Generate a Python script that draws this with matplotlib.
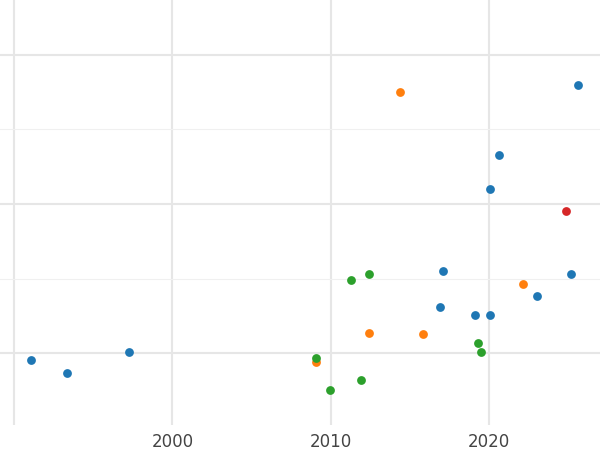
import matplotlib
matplotlib.use("Agg")
import matplotlib.pyplot as plt

blue_x = [1991.07, 1993.34, 1997.26, 2025.58, 2020.6, 2020.03, 2017.07, 2016.88, 2019.08, 2020.03, 2023.0, 2025.14]
blue_y = [-0.047, -0.134, 0.007, 1.799, 1.329, 1.101, 0.55, 0.309, 0.255, 0.255, 0.383, 0.530]
orange_x = [2014.35, 2009.05, 2012.4, 2015.8, 2022.11]
orange_y = [1.752, -0.06, 0.134, 0.128, 0.463]
green_x = [2011.26, 2012.4, 2009.05, 2009.94, 2011.9, 2019.27, 2019.46]
green_y = [0.49, 0.53, -0.034, -0.248, -0.181, 0.067, 0.007]
red_x = [2024.83]
red_y = [0.953]
xticks = [2000, 2010, 2020]

fig = plt.figure(figsize=(6, 4.5), dpi=100)
ax = fig.add_axes([0, 25/450, 1, 425/450])
for s in ax.spines.values():
    s.set_visible(False)
ax.set_axisbelow(True)
for xs, ys, c in [(blue_x, blue_y, '#1f77b4'), (orange_x, orange_y, '#ff7f0e'),
                  (green_x, green_y, '#2ca02c'), (red_x, red_y, '#d62728')]:
    ax.scatter(xs, ys, s=40, color=c, zorder=3, linewidths=0)
ax.set_xlim(1989.12, 2027.0)
ax.set_ylim(-0.483, 2.369)
ax.set_xticks([1990] + xticks)
ax.set_xticklabels([''] + [str(t) for t in xticks])
ax.set_yticks([0, 1, 2])
ax.set_yticks([0.5, 1.5], minor=True)
ax.set_yticklabels([])
ax.grid(True, which='major', color='#e6e6e6', linewidth=1.5)
ax.grid(True, which='minor', axis='y', color='#f0f0f0', linewidth=0.8)
ax.tick_params(which='both', length=0, labelsize=12, labelcolor='#444444', pad=6)
fig.savefig('out.png', dpi=100, facecolor='white')
